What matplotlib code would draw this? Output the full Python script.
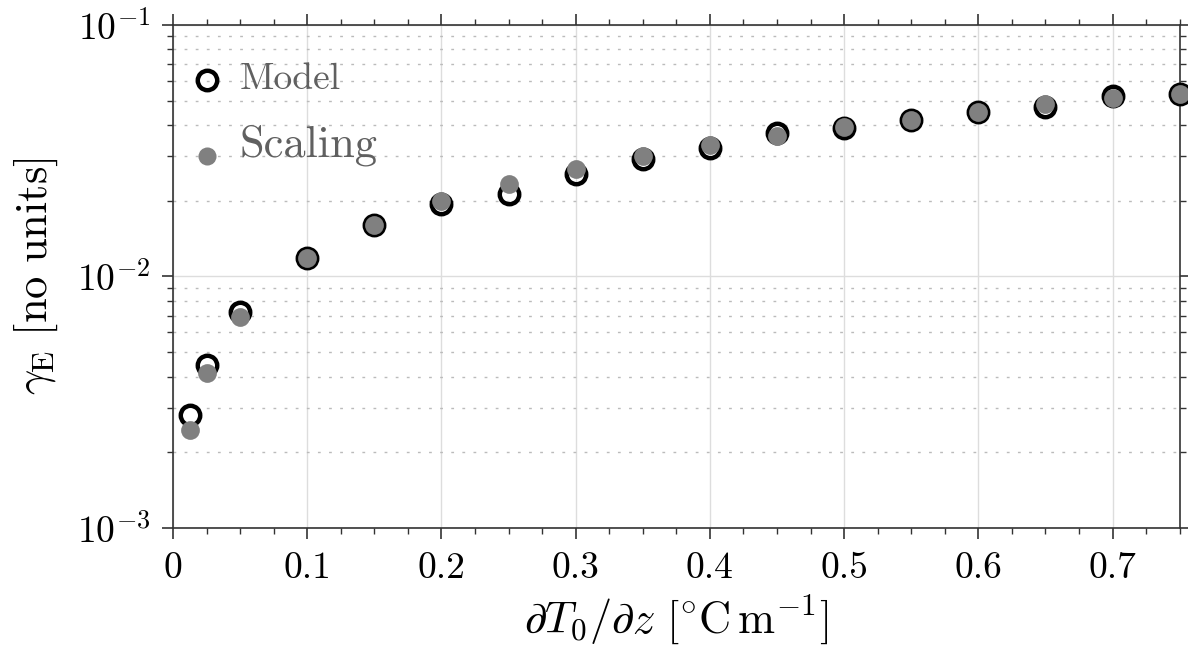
import numpy as np
import matplotlib
matplotlib.use("Agg")
import matplotlib.pyplot as plt
from matplotlib.ticker import MultipleLocator, LogLocator, NullFormatter, FuncFormatter

plt.rcParams["font.family"] = "serif"
plt.rcParams["font.serif"] = ["cmr10", "DejaVu Serif"]
plt.rcParams["mathtext.fontset"] = "cm"
plt.rcParams["axes.formatter.use_mathtext"] = True
plt.rcParams["axes.unicode_minus"] = False

# =========================
# DATA
# =========================
grad_T = [0.0125, 0.025, 0.05, 0.1, 0.15, 0.2, 0.25, 0.3, 0.35,
          0.4, 0.45, 0.5, 0.55, 0.6, 0.65, 0.7, 0.75]

gamma_model = [0.00282, 0.00445, 0.00725, 0.01188, 0.01597, 0.0194,
               0.02126, 0.02546, 0.02936, 0.03238, 0.03704, 0.03878,
               0.04172, 0.04489, 0.04725, 0.05211, 0.05308]

gamma_scaling = [0.00246, 0.00413, 0.00692, 0.01188, 0.01597, 0.0200,
                 0.02324, 0.02672, 0.0301, 0.03328, 0.03614, 0.03935,
                 0.04172, 0.04489, 0.0483, 0.05102, 0.05308]

# =========================
# PLOT
# =========================
fig = plt.figure(figsize=(11.88, 6.57), dpi=100)
ax = fig.add_axes([0.1456, 0.1959, 0.8474, 0.7665])

ax.plot(grad_T, gamma_model, "o", ms=14, mfc="none", mec="black",
        mew=3.2, zorder=3, clip_on=False)
ax.plot(grad_T, gamma_scaling, "o", ms=13.5, mfc="#808080", mec="none",
        zorder=4, clip_on=False)

ax.set_yscale("log")
ax.set_xlim(0, 0.75)
ax.set_ylim(1e-3, 1e-1)

ax.xaxis.set_major_locator(MultipleLocator(0.1))
ax.xaxis.set_minor_locator(MultipleLocator(0.025))
ax.xaxis.set_major_formatter(FuncFormatter(lambda v, p: "0" if abs(v) < 1e-9 else f"{v:.1f}"))
ax.yaxis.set_major_locator(LogLocator(base=10, numticks=10))
ax.yaxis.set_minor_locator(LogLocator(base=10, subs=np.arange(2, 10), numticks=10))
ax.yaxis.set_minor_formatter(NullFormatter())

ax.grid(True, which="major", axis="both", color="#dddddd", lw=1.0, zorder=0)
ax.grid(True, which="minor", axis="y", color="#bbbbbb", lw=1.0,
        linestyle=(0, (2, 6)), zorder=0)

for s in ax.spines.values():
    s.set_color("#333333")
    s.set_linewidth(1.2)
ax.tick_params(which="both", direction="out", top=True, right=True,
               color="#333333", labelsize=27)
ax.tick_params(which="major", length=8, width=1.2)
ax.tick_params(which="minor", length=4, width=1.0)
ax.tick_params(axis="x", which="major", pad=9)
ax.tick_params(axis="y", which="major", pad=8)

ax.set_xlabel(r"$\partial T_0/\partial z\ [^{\circ}\mathrm{C\,m}^{-1}]$",
              fontsize=32, labelpad=6)
ax.set_ylabel(r"$\gamma_{\mathrm{E}}\ [\mathrm{no\ units}]$", fontsize=32,
              labelpad=12)

# legend drawn in axes coordinates
ax.plot([0.034], [0.891], "o", ms=14, mfc="none", mec="black", mew=3.2,
        transform=ax.transAxes, clip_on=False, zorder=5)
ax.text(0.066, 0.891, "Model", transform=ax.transAxes, fontsize=27,
        color="#606060", va="center", ha="left")
ax.plot([0.034], [0.74], "o", ms=13, mfc="#808080", mec="none",
        transform=ax.transAxes, clip_on=False, zorder=5)
ax.text(0.066, 0.76, "Scaling", transform=ax.transAxes, fontsize=32,
        color="#606060", va="center", ha="left")

fig.savefig("out.png", dpi=100)
